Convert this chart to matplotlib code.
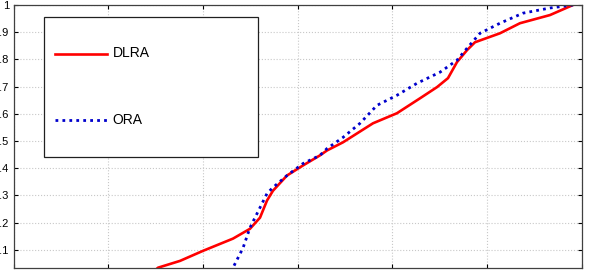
import matplotlib
matplotlib.use('Agg')
import matplotlib.pyplot as plt

plt.rcParams['font.family'] = ['Liberation Sans', 'DejaVu Sans']

# curves (x in tick units, y as fraction)
dlra_x = [1.45, 1.526, 1.758, 2.001, 2.318, 2.497, 2.603, 2.677, 2.740, 2.888,
          3.057, 3.236, 3.310, 3.479, 3.796, 4.049, 4.293, 4.472, 4.588,
          4.683, 4.789, 4.873, 5.137, 5.348, 5.665, 5.908]
dlra_y = [0.01, 0.034, 0.059, 0.096, 0.141, 0.177, 0.218, 0.281, 0.317, 0.373,
          0.410, 0.447, 0.465, 0.495, 0.565, 0.602, 0.657, 0.698, 0.731,
          0.790, 0.834, 0.863, 0.896, 0.933, 0.963, 1.000]
ora_x = [2.29, 2.318, 2.424, 2.497, 2.603, 2.677, 2.740, 2.888, 3.057, 3.236,
         3.310, 3.479, 3.659, 3.838, 4.049, 4.260, 4.504, 4.683, 4.789,
         4.926, 5.137, 5.380, 5.665, 5.908]
ora_y = [0.01, 0.034, 0.107, 0.181, 0.255, 0.307, 0.329, 0.373, 0.417, 0.447,
         0.472, 0.513, 0.565, 0.631, 0.668, 0.712, 0.753, 0.797, 0.841,
         0.896, 0.933, 0.970, 0.989, 1.000]
yticks = [0.1, 0.2, 0.3, 0.4, 0.5, 0.6, 0.7, 0.8, 0.9, 1]
ylabels = ['0.1', '0.2', '0.3', '0.4', '0.5', '0.6', '0.7', '0.8', '0.9', '1']

fig = plt.figure(figsize=(5.89, 2.71), dpi=100)
W, H = 589, 271
ax = fig.add_axes([13.5 / W, 1 - 267.7 / H, (581.7 - 13.5) / W, (267.7 - 5) / H])

ax.plot(dlra_x, dlra_y, color='#ff0000', lw=1.9, label='DLRA')
ax.plot(ora_x, ora_y, color='#0000cc', lw=2.0, ls=(0, (1, 1.5)), label='ORA')

ax.set_xlim(0, 6)
ax.set_ylim(0.034, 1)
ax.set_xticks(range(7))
ax.set_xticklabels([])
ax.set_yticks(yticks)
ax.set_yticklabels(ylabels)
ax.grid(True, color='#c8c8c8', ls=':', lw=0.8)
ax.tick_params(direction='in', length=3, top=True, right=True, labelsize=8, pad=3)
for s in ax.spines.values():
    s.set_color('#404040')
    s.set_linewidth(0.9)

fs = 10
hh = 5.3
leg = ax.legend(loc='upper left', bbox_to_anchor=(44 / W, 1 - 17 / H, (258 - 44) / W, 0),
                bbox_transform=fig.transFigure, mode='expand', borderaxespad=0,
                fontsize=fs, handlelength=3.75, handleheight=hh, labelspacing=1.1,
                borderpad=0.8, handletextpad=0.4, fancybox=False, framealpha=1)
leg.get_frame().set_edgecolor('#202020')
leg.get_frame().set_linewidth(0.9)
# tall handle boxes put the sample line above the text; pull it back to centre
shift = 0.35 * fs * (hh - 0.7) / 2
for h in leg.legend_handles:
    h.set_ydata(h.get_ydata() - shift)

fig.savefig('out.png', dpi=100)
